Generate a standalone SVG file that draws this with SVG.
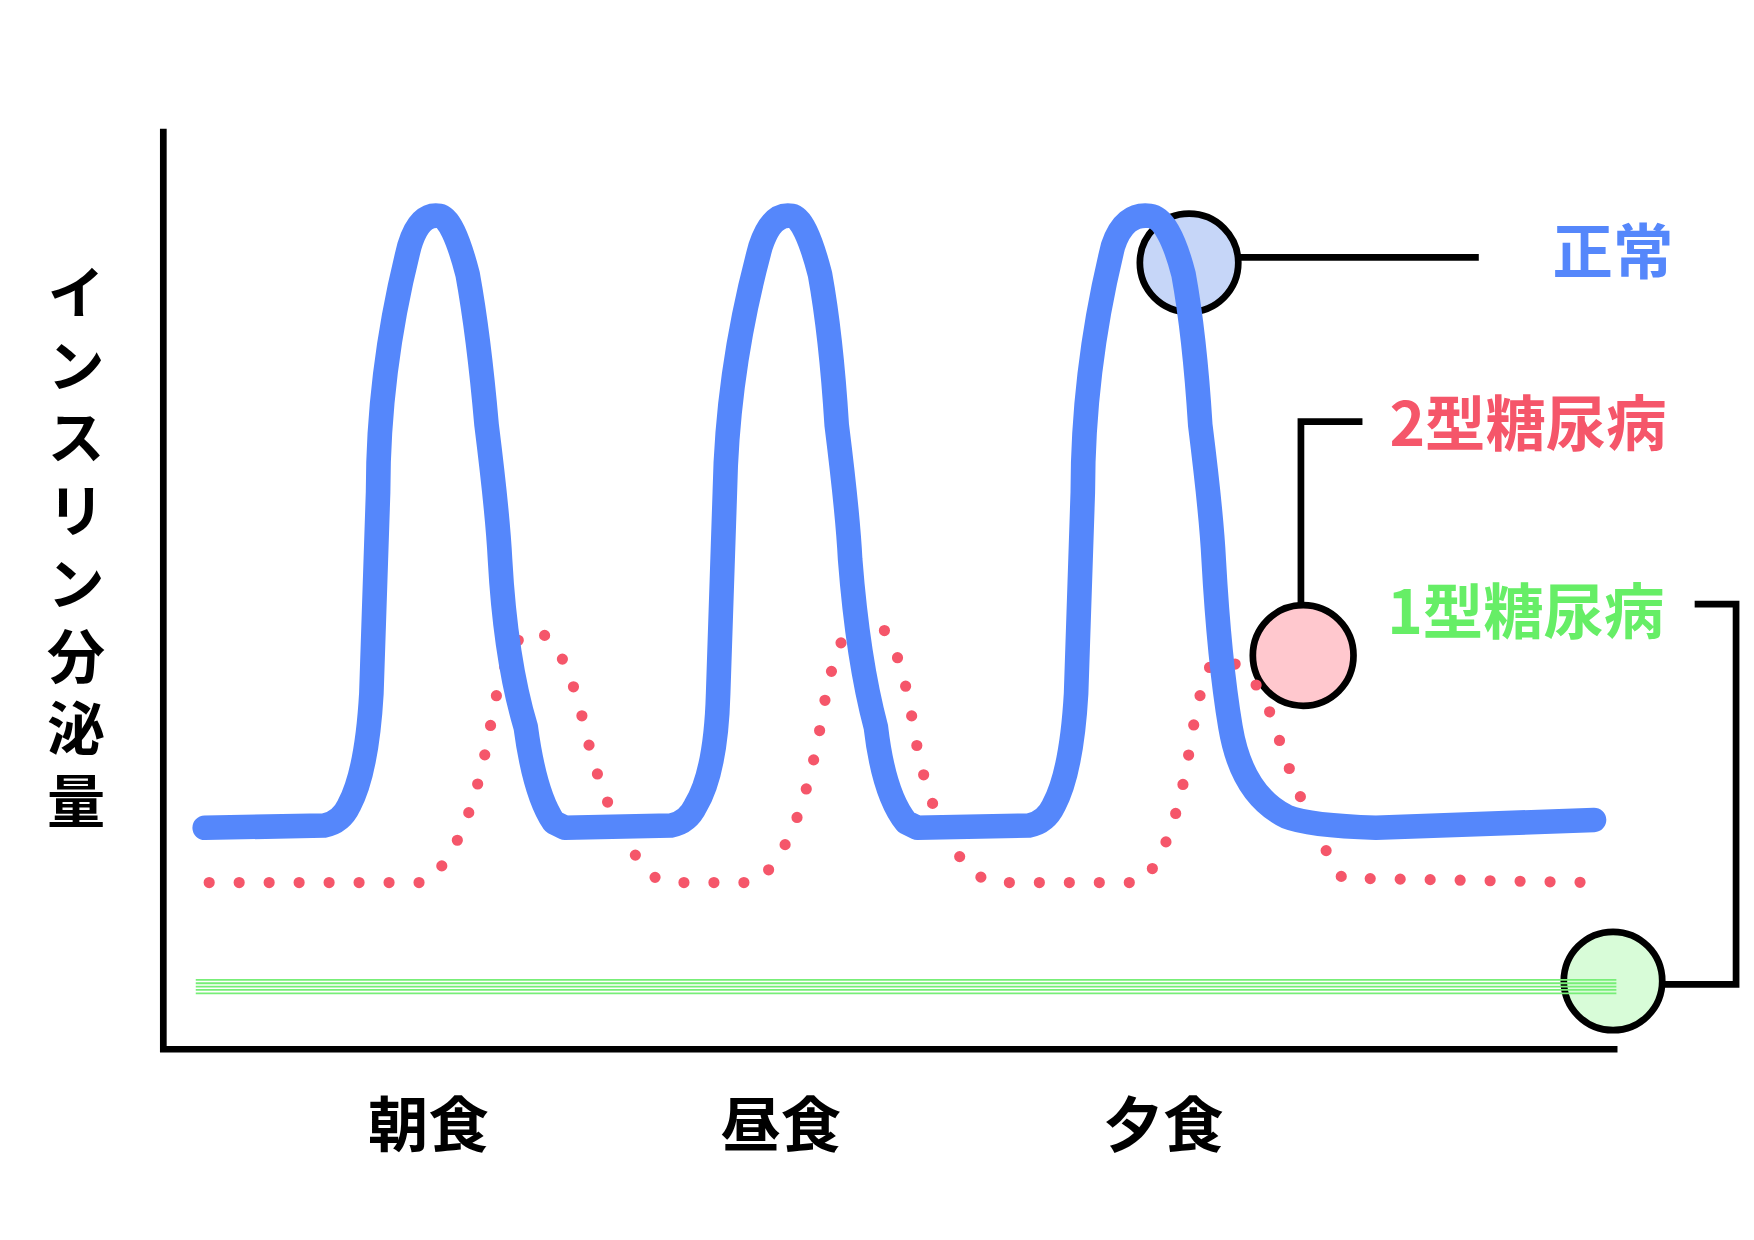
<svg xmlns="http://www.w3.org/2000/svg" width="1754" height="1240" viewBox="0 0 1754 1240">
<style>
.lab{font-family:"Noto Sans CJK JP","Noto Sans",sans-serif;font-weight:bold}
.conn{fill:none;stroke:#000;stroke-width:6}
.mark{stroke:#000;stroke-width:6}
</style>
<rect width="1754" height="1240" fill="#fff"/>
<g transform="scale(1.1186)">
<g id="axes" fill="none" stroke="#000" stroke-width="6">
<path d="M146,115 L146,938 L1446,938"/>
</g>
<g id="connectors">
<path class="conn" d="M1105,230 L1322,230"/>
<path class="conn" d="M1163,540 L1163,377 L1218,377"/>
<path class="conn" d="M1486,880 L1552,880 L1552,540 L1515,540"/>
</g>
<g id="marker-normal"><circle class="mark" cx="1063" cy="235" r="44" fill="#c6d6f8"/></g>
<g id="marker-type2"><circle class="mark" cx="1165" cy="586" r="45" fill="#ffc8ce"/></g>
<g id="marker-type1"><circle class="mark" cx="1442" cy="877" r="44" fill="#d8fcd8"/></g>
<g id="type1-line" stroke="#77ee77" stroke-width="1.6">
<path d="M175,876 H1445 M175,879 H1445 M175,882 H1445 M175,885 H1445 M175,888 H1445"/>
</g>
<g id="type2-curve">
<path d="M187,789 L380,789 Q420,760 440,640 Q455,560 480,565 Q505,570 525,660 Q545,740 580,780 Q590,789 600,789 L675,789 Q715,760 735,640 Q750,550 775,553 Q800,555 815,640 Q830,740 870,780 L885,789 L1020,789 Q1050,760 1065,660 Q1078,585 1090,590 Q1120,590 1140,650 Q1165,730 1200,785 L1425,789" fill="none" stroke="#f5566a" stroke-width="10" stroke-linecap="round" stroke-dasharray="0 26.8"/>
</g>
<g id="normal-curve">
<path d="M183,740 L290,738 Q305,735 312,720 Q328,690 332,620 L338,440 Q338,330 366,220 Q375,190 393,193 Q405,195 418,245 Q428,300 435,380 Q445,460 447,500 Q452,590 470,650 Q478,710 495,735 L505,740 L600,738 Q615,735 622,720 Q640,690 642,620 L648,440 Q650,330 680,220 Q690,190 708,193 Q720,195 733,245 Q743,300 748,380 Q758,460 760,500 Q767,590 783,650 Q790,710 810,735 L820,740 L920,738 Q935,735 942,720 Q958,690 962,620 L968,440 Q968,330 995,220 Q1005,190 1028,193 Q1045,195 1058,245 Q1068,300 1073,380 Q1083,460 1085,500 Q1090,590 1100,650 Q1110,710 1150,730 Q1170,738 1230,740 L1425,733" fill="none" stroke="#5587fb" stroke-width="22" stroke-linecap="round" stroke-linejoin="round"/>
</g>
<g id="labels" class="lab">
<text x="1442" y="245" font-size="54" fill="#5587fb" text-anchor="middle">正常</text>
<text x="1366" y="399" font-size="54" fill="#f5566a" text-anchor="middle">2型糖尿病</text>
<text x="1364" y="567" font-size="54" fill="#66ee66" text-anchor="middle">1型糖尿病</text>
<text x="383" y="1025" font-size="54" fill="#000" text-anchor="middle">朝食</text>
<text x="698" y="1025" font-size="54" fill="#000" text-anchor="middle">昼食</text>
<text x="1040" y="1025" font-size="54" fill="#000" text-anchor="middle">夕食</text>
<text x="68" y="235" font-size="52" fill="#000" style="writing-mode:vertical-rl" text-anchor="start" letter-spacing="13">インスリン分泌量</text>
</g>
</g>
</svg>
